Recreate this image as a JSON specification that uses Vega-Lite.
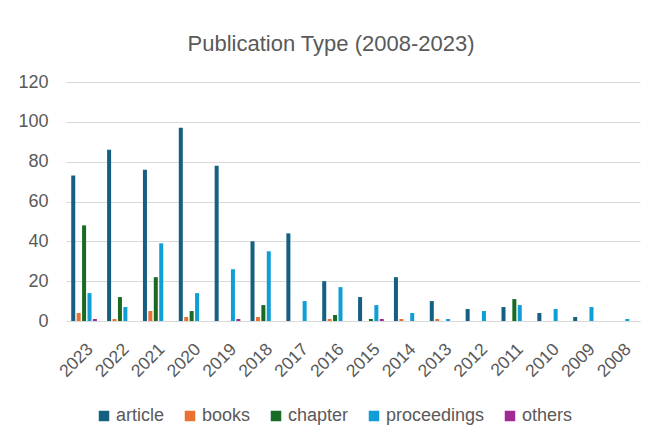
{
  "$schema": "https://vega.github.io/schema/vega-lite/v6.json",
  "width": 574,
  "height": 239,
  "autosize": {"type": "none"},
  "padding": {"left": 66, "top": 82, "right": 8, "bottom": 118},
  "background": "white",
  "title": {
    "text": "Publication Type (2008-2023)",
    "fontSize": 22,
    "fontWeight": "normal",
    "color": "#595959",
    "anchor": "middle",
    "frame": "group",
    "dx": -22,
    "offset": 17
  },
  "data": {
    "values": [
      {"year": "2023", "type": "article", "count": 73},
      {"year": "2023", "type": "books", "count": 4},
      {"year": "2023", "type": "chapter", "count": 48},
      {"year": "2023", "type": "proceedings", "count": 14},
      {"year": "2023", "type": "others", "count": 1},
      {"year": "2022", "type": "article", "count": 86},
      {"year": "2022", "type": "books", "count": 1},
      {"year": "2022", "type": "chapter", "count": 12},
      {"year": "2022", "type": "proceedings", "count": 7},
      {"year": "2021", "type": "article", "count": 76},
      {"year": "2021", "type": "books", "count": 5},
      {"year": "2021", "type": "chapter", "count": 22},
      {"year": "2021", "type": "proceedings", "count": 39},
      {"year": "2020", "type": "article", "count": 97},
      {"year": "2020", "type": "books", "count": 2},
      {"year": "2020", "type": "chapter", "count": 5},
      {"year": "2020", "type": "proceedings", "count": 14},
      {"year": "2019", "type": "article", "count": 78},
      {"year": "2019", "type": "proceedings", "count": 26},
      {"year": "2019", "type": "others", "count": 1},
      {"year": "2018", "type": "article", "count": 40},
      {"year": "2018", "type": "books", "count": 2},
      {"year": "2018", "type": "chapter", "count": 8},
      {"year": "2018", "type": "proceedings", "count": 35},
      {"year": "2017", "type": "article", "count": 44},
      {"year": "2017", "type": "proceedings", "count": 10},
      {"year": "2016", "type": "article", "count": 20},
      {"year": "2016", "type": "books", "count": 1},
      {"year": "2016", "type": "chapter", "count": 3},
      {"year": "2016", "type": "proceedings", "count": 17},
      {"year": "2015", "type": "article", "count": 12},
      {"year": "2015", "type": "chapter", "count": 1},
      {"year": "2015", "type": "proceedings", "count": 8},
      {"year": "2015", "type": "others", "count": 1},
      {"year": "2014", "type": "article", "count": 22},
      {"year": "2014", "type": "books", "count": 1},
      {"year": "2014", "type": "proceedings", "count": 4},
      {"year": "2013", "type": "article", "count": 10},
      {"year": "2013", "type": "books", "count": 1},
      {"year": "2013", "type": "proceedings", "count": 1},
      {"year": "2012", "type": "article", "count": 6},
      {"year": "2012", "type": "proceedings", "count": 5},
      {"year": "2011", "type": "article", "count": 7},
      {"year": "2011", "type": "chapter", "count": 11},
      {"year": "2011", "type": "proceedings", "count": 8},
      {"year": "2010", "type": "article", "count": 4},
      {"year": "2010", "type": "proceedings", "count": 6},
      {"year": "2009", "type": "article", "count": 2},
      {"year": "2009", "type": "proceedings", "count": 7},
      {"year": "2008", "type": "proceedings", "count": 1}
    ]
  },
  "mark": {"type": "bar"},
  "encoding": {
    "x": {
      "field": "year",
      "type": "nominal",
      "sort": "descending",
      "scale": {"paddingInner": 0.283, "paddingOuter": 0.146},
      "axis": {
        "title": null,
        "labelAngle": -45,
        "labelFontSize": 17.5,
        "labelColor": "#595959",
        "ticks": false,
        "domainColor": "#d9d9d9",
        "labelPadding": 19,
        "grid": false
      }
    },
    "xOffset": {
      "field": "type",
      "type": "nominal",
      "scale": {
        "domain": ["article", "books", "chapter", "proceedings", "others"],
        "paddingInner": 0.26,
        "paddingOuter": 0
      }
    },
    "y": {
      "field": "count",
      "type": "quantitative",
      "scale": {"domain": [0, 120]},
      "axis": {
        "title": null,
        "values": [0, 20, 40, 60, 80, 100, 120],
        "domain": false,
        "ticks": false,
        "gridColor": "#d9d9d9",
        "labelFontSize": 18,
        "labelColor": "#595959",
        "labelPadding": 18
      }
    },
    "color": {
      "field": "type",
      "type": "nominal",
      "scale": {
        "domain": ["article", "books", "chapter", "proceedings", "others"],
        "range": ["#156082", "#e97132", "#196b24", "#0f9ed5", "#a02b93"]
      },
      "legend": {
        "title": null,
        "orient": "none",
        "legendX": 29,
        "legendY": 325,
        "direction": "horizontal",
        "columns": 5,
        "symbolType": "square",
        "symbolSize": 110,
        "symbolStrokeWidth": 0,
        "labelFontSize": 18,
        "labelColor": "#595959",
        "columnPadding": 16,
        "labelOffset": 3
      }
    }
  },
  "config": {
    "view": {"stroke": null},
    "font": "Liberation Sans"
  }
}
